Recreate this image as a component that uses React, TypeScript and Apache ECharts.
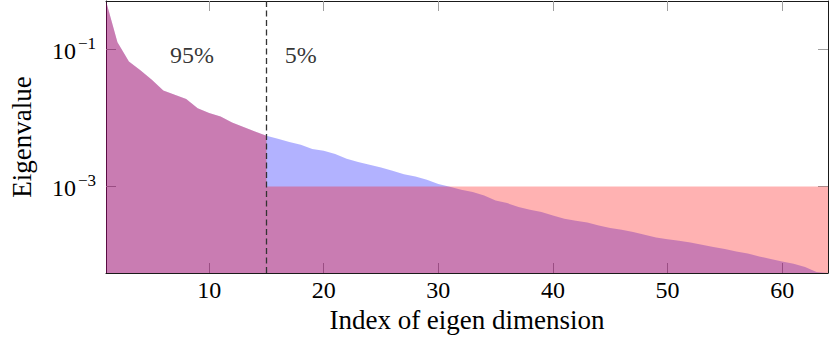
import React, { useEffect, useRef } from "react";
import * as echarts from "echarts";

const indices: number[] = Array.from({ length: 64 }, (_, i) => i + 1);
const eigenvalues: number[] = [
  0.5, 0.125, 0.066, 0.049, 0.0357, 0.0249, 0.0216, 0.0187, 0.0138, 0.0117,
  0.0104, 0.00855, 0.00733, 0.00632, 0.00547, 0.00494, 0.00442, 0.00404, 0.0035, 0.0033,
  0.00296, 0.00253, 0.00226, 0.00207, 0.00189, 0.00169, 0.00151, 0.0014, 0.00125, 0.00109,
  0.00099, 0.000895, 0.000828, 0.00074, 0.000625, 0.000573, 0.000501, 0.000458, 0.000424, 0.000378,
  0.000339, 0.000317, 0.000299, 0.000271, 0.000248, 0.000234, 0.000217, 0.000198, 0.000181, 0.000171,
  0.000162, 0.000153, 0.000142, 0.000131, 0.000123, 0.000113, 0.000106, 0.0000958, 0.0000877, 0.0000809,
  0.000075, 0.0000671, 0.0000568, 0.000055,
];
const cutIndex = 15;
const threshold = 0.001;
const xTicks: number[] = [10, 20, 30, 40, 50, 60];
const yTicks: number[] = [0.001, 0.1];
const annotationX: number[] = [8.5, 18];
const annotationY: number[] = [0.082, 0.082];
const annotationText: string[] = ["95%", "5%"];
const xTitle = "Index of eigen dimension";
const yTitle = "Eigenvalue";

const FONT = "Liberation Serif";

export default function App() {
  const ref = useRef<HTMLDivElement>(null);
  useEffect(() => {
    if (!ref.current) return;
    const chart = echarts.init(ref.current, null, { renderer: "svg" });
    const xMin = indices[0];
    const xMax = indices[indices.length - 1];
    const yMin = Math.min(...eigenvalues);
    const yMax = Math.max(...eigenvalues);
    const curve = indices.map((x, i) => [x, eigenvalues[i]]);
    const redData: number[][] = [];
    indices.forEach((x, i) => {
      if (x <= cutIndex) redData.push([x, eigenvalues[i]]);
    });
    redData.push([cutIndex, threshold]);
    redData.push([xMax, threshold]);

    const supLabel = (v: number) => {
      const e = Math.round(Math.log10(v));
      return `{b|10}{s|${e < 0 ? "\u2212" : ""}${Math.abs(e)}}`;
    };
    const rich = {
      b: { fontSize: 24, fontFamily: FONT, color: "#000", lineHeight: 28, verticalAlign: "bottom" },
      s: { fontSize: 17, fontFamily: FONT, color: "#000", lineHeight: 17, verticalAlign: "top", padding: [0, 0, 0, 2] },
    };
    const tickStyle = { inside: true, length: 10, lineStyle: { color: "#a0a0a0", width: 1 } };
    const lineStyle = { color: "#1a1a1a", width: 1 };

    chart.setOption({
      animation: false,
      textStyle: { fontFamily: FONT },
      grid: { left: 104, right: 1, top: 1, bottom: 71, containLabel: false },
      xAxis: [
        {
          type: "value",
          min: xMin,
          max: xMax,
          position: "bottom",
          splitLine: { show: false },
          axisLine: { show: true, lineStyle },
          axisTick: { ...tickStyle, customValues: xTicks },
          axisLabel: {
            customValues: xTicks,
            fontSize: 24,
            fontFamily: FONT,
            color: "#000",
            margin: 5,
          },
          name: xTitle,
          nameLocation: "middle",
          nameGap: 33,
          nameTextStyle: { fontSize: 27, fontFamily: FONT, color: "#000" },
        },
        {
          type: "value",
          min: xMin,
          max: xMax,
          position: "top",
          splitLine: { show: false },
          axisLine: { show: true, lineStyle },
          axisTick: { ...tickStyle, customValues: xTicks },
          axisLabel: { show: false },
        },
      ],
      yAxis: [
        {
          type: "log",
          logBase: 10,
          min: yMin,
          max: yMax,
          position: "left",
          splitLine: { show: false },
          minorTick: { show: false },
          axisLine: { show: true, lineStyle },
          axisTick: { ...tickStyle, customValues: yTicks },
          axisLabel: {
            customValues: yTicks,
            formatter: supLabel,
            rich,
            fontFamily: FONT,
            margin: 10,
          },
          name: yTitle,
          nameLocation: "middle",
          nameGap: 71,
          nameRotate: 90,
          nameTextStyle: { fontSize: 27, fontFamily: FONT, color: "#000" },
        },
        {
          type: "log",
          logBase: 10,
          min: yMin,
          max: yMax,
          position: "right",
          splitLine: { show: false },
          axisLine: { show: true, lineStyle },
          axisTick: { ...tickStyle, customValues: yTicks },
          axisLabel: { show: false },
        },
      ],
      series: [
        {
          type: "line",
          data: curve,
          xAxisIndex: 0,
          yAxisIndex: 0,
          showSymbol: false,
          symbol: "none",
          lineStyle: { width: 0 },
          areaStyle: { color: "#0000ff", opacity: 0.3, origin: "start" },
          markLine: {
            silent: true,
            symbol: "none",
            label: { show: false },
            lineStyle: { color: "#333", width: 1.3, type: [6, 3.5] },
            data: [{ xAxis: cutIndex }],
          },
          z: 2,
        },
        {
          type: "line",
          data: redData,
          xAxisIndex: 0,
          yAxisIndex: 0,
          showSymbol: false,
          symbol: "none",
          lineStyle: { width: 0 },
          areaStyle: { color: "#ff0000", opacity: 0.3, origin: "start" },
          z: 3,
        },
        {
          type: "scatter",
          xAxisIndex: 0,
          yAxisIndex: 0,
          symbolSize: 0,
          data: annotationX.map((x, i) => [x, annotationY[i], annotationText[i]]),
          label: {
            show: true,
            position: "inside",
            formatter: (p: any) => p.data[2],
            fontSize: 24,
            fontFamily: FONT,
            color: "#000",
          },
          z: 5,
        },
      ],
    });
    return () => chart.dispose();
  }, []);
  return (
    <div
      ref={ref}
      style={{ position: "fixed", left: 0, top: 0, width: 829, height: 344, background: "#fff" }}
    />
  );
}
